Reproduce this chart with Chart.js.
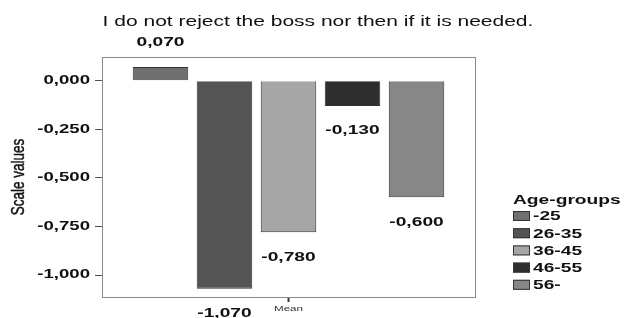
<!DOCTYPE html>
<html>
<head>
<meta charset="utf-8">
<script src="https://cdn.jsdelivr.net/npm/chart.js@4"></script>
<style>
  body { margin: 0; background: #fff; }
</style>
</head>
<body>
<canvas id="chart" width="626" height="318"></canvas>
<script>
const categories = ["Mean"];
const ageGroups = ["-25", "26-35", "36-45", "46-55", "56-"];
const meanValues = [0.070, -1.070, -0.780, -0.130, -0.600];
const yTicks = [0, -0.25, -0.5, -0.75, -1];
const barColors = ["#707070", "#545454", "#a6a6a6", "#2e2e2e", "#878787"];

const fmt = v => v.toFixed(3).replace(".", ",");
const SANS = "'Liberation Sans', Arial, sans-serif";

// the original picture is stretched sideways, so the text is too
function wideText(ctx, text, x, y, sx, align) {
  ctx.save();
  ctx.translate(x, y);
  ctx.scale(sx, 1);
  ctx.textAlign = align;
  ctx.fillText(text, 0, 0);
  ctx.restore();
}

const decorations = {
  id: "decorations",
  afterDraw(chart) {
    const ctx = chart.ctx;
    const area = chart.chartArea;
    const yScale = chart.scales.y;
    const xScale = chart.scales.x;
    ctx.save();
    ctx.strokeStyle = "#8a8a8a";
    ctx.lineWidth = 1;
    ctx.strokeRect(area.left + 0.5, area.top + 0.5, area.right - area.left, area.bottom - area.top);

    ctx.fillStyle = "#111";
    ctx.textBaseline = "middle";
    ctx.font = "14px " + SANS;
    wideText(ctx, "I do not reject the boss nor then if it is needed.", 318, 22, 1.5, "center");

    // value labels
    ctx.font = "bold 12px " + SANS;
    chart.data.datasets.forEach((ds, i) => {
      const bar = chart.getDatasetMeta(i).data[0];
      const v = ds.data[0];
      const y = v >= 0 ? bar.y - 24 : bar.y + 25;
      wideText(ctx, fmt(v), bar.x, y, 1.6, "center");
    });

    // y tick labels
    yTicks.forEach(v => {
      wideText(ctx, fmt(v), 90, yScale.getPixelForValue(v), 1.55, "right");
    });

    // x tick label
    ctx.font = "8px " + SANS;
    ctx.fillStyle = "#333";
    wideText(ctx, categories[0], xScale.getPixelForTick(0), 309, 1.45, "center");

    // y axis title
    ctx.fillStyle = "#111";
    ctx.font = "13.5px " + SANS;
    ctx.save();
    ctx.translate(19, (area.top + area.bottom) / 2);
    ctx.rotate(-Math.PI / 2);
    ctx.scale(1, 1.3);
    ctx.textAlign = "center";
    ctx.fillText("Scale values", 0, 0);
    ctx.lineWidth = 0.35;
    ctx.strokeStyle = "#111";
    ctx.strokeText("Scale values", 0, 0);
    ctx.restore();

    // legend
    ctx.font = "bold 12px " + SANS;
    wideText(ctx, "Age-groups", 513, 201, 1.6, "left");
    chart.data.datasets.forEach((ds, i) => {
      const y = 216 + i * 17.2;
      ctx.fillStyle = ds.backgroundColor;
      ctx.fillRect(513, y - 5, 17, 10);
      ctx.strokeStyle = "#333";
      ctx.strokeRect(513.5, y - 4.5, 16, 9);
      ctx.fillStyle = "#111";
      wideText(ctx, ds.label, 533, y + 1, 1.6, "left");
    });
    ctx.restore();
  }
};

new Chart(document.getElementById("chart"), {
  type: "bar",
  data: {
    labels: categories,
    datasets: ageGroups.map((g, i) => ({
      label: g,
      data: [meanValues[i]],
      backgroundColor: barColors[i],
      borderColor: "#333",
      borderWidth: 1
    }))
  },
  options: {
    responsive: false,
    animation: false,
    devicePixelRatio: 1,
    layout: { padding: { left: 0, top: 57, right: 151, bottom: 0 } },
    categoryPercentage: 0.858,
    barPercentage: 0.867,
    plugins: {
      legend: { display: false },
      tooltip: { enabled: false }
    },
    scales: {
      x: {
        afterFit: s => { s.height = 21; },
        grid: { display: true, offset: false, drawOnChartArea: false, tickLength: 5, color: "#333", tickWidth: 2 },
        border: { display: false },
        ticks: { color: "rgba(0,0,0,0)", font: { size: 8 }, padding: 0 }
      },
      y: {
        min: -1.113,
        max: 0.122,
        afterFit: s => { s.width = 102; },
        afterBuildTicks: s => { s.ticks = yTicks.map(v => ({ value: v })); },
        grid: { drawOnChartArea: false, tickLength: 7, color: "#555" },
        border: { display: false },
        ticks: { color: "rgba(0,0,0,0)", padding: 3, callback: v => fmt(v) }
      }
    }
  },
  plugins: [decorations]
});
</script>
</body>
</html>
